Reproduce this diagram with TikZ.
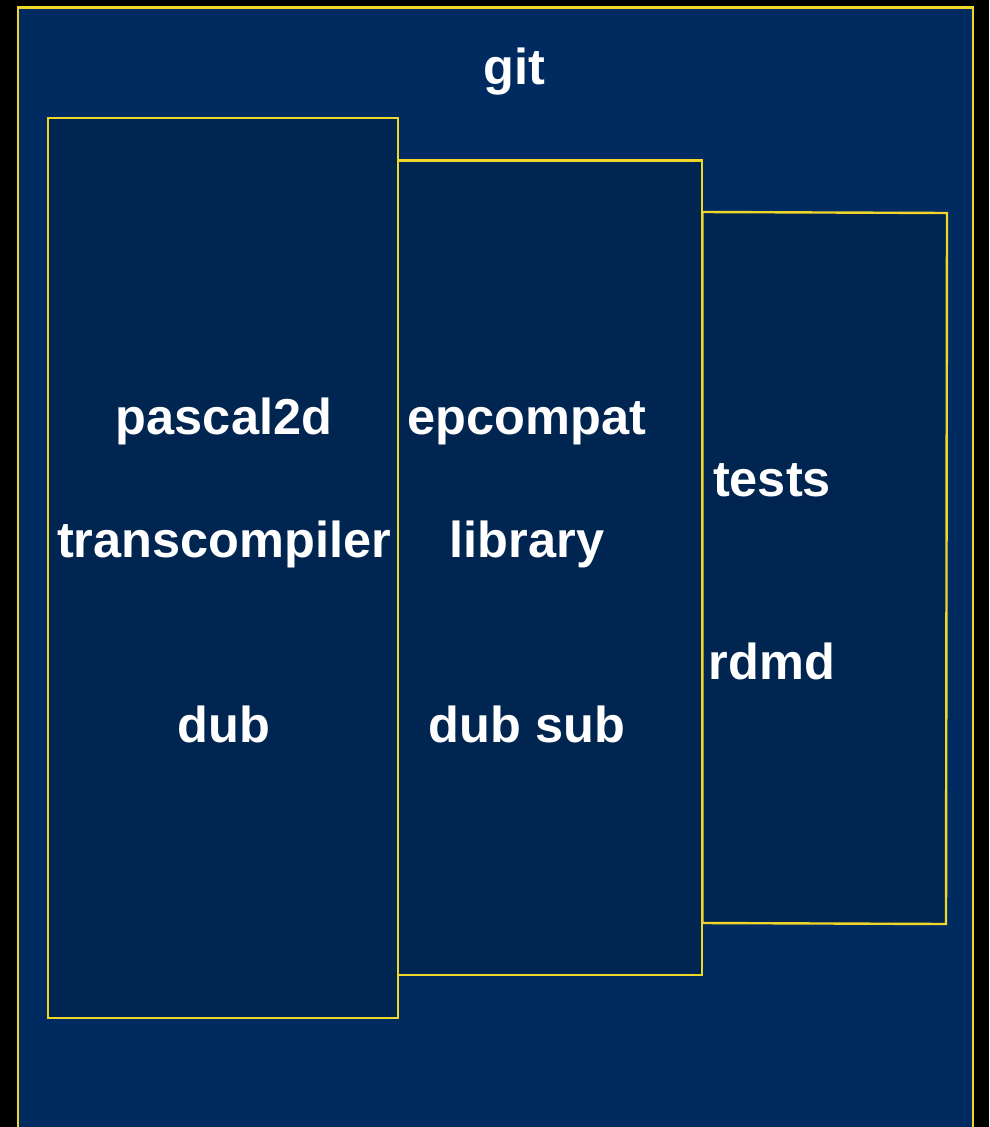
\documentclass[tikz,border=0pt]{standalone}
\usepackage{fontspec}
\setmainfont{Liberation Sans}
\definecolor{outerblue}{RGB}{0,43,96}
\definecolor{innerblue}{RGB}{0,37,80}
\definecolor{edgeyellow}{RGB}{240,214,40}
\begin{document}
\begin{tikzpicture}[x=1pt,y=-1pt,
  box/.style={draw=edgeyellow,line width=2.4pt,fill=innerblue},
  lbl/.style={text=white,font=\fontsize{50.5}{60}\selectfont\bfseries,inner sep=0pt,anchor=base}]
\fill[black] (0,0) rectangle (989,1127);
\useasboundingbox (0,0) rectangle (989,1127);
\draw[draw=edgeyellow,line width=2.8pt,fill=outerblue] (18,1140) -- (18,7.5) -- (973,7.5) -- (973,1140);
\draw[box] (48,118) rectangle (398,1018);
\draw[box] (398,160.5) rectangle (702,975);
\draw[box] (702.5,212) -- (947,213) -- (946,924) -- (702.5,923) -- cycle;
\node[lbl] (git) at (514,84) {git};
\node[lbl] (p2d) at (224,434) {pascal2d};
\node[lbl] (tc) at (224,557) {transcompiler};
\node[lbl] (dub) at (224,742) {dub};
\node[lbl] (ep) at (527,434) {epcompat};
\node[lbl] (lib) at (527,557) {library};
\node[lbl] (ds) at (527,742) {dub sub};
\node[lbl] (tests) at (772,496) {tests};
\node[lbl] (rdmd) at (772,679) {rdmd};
\end{tikzpicture}
\end{document}
